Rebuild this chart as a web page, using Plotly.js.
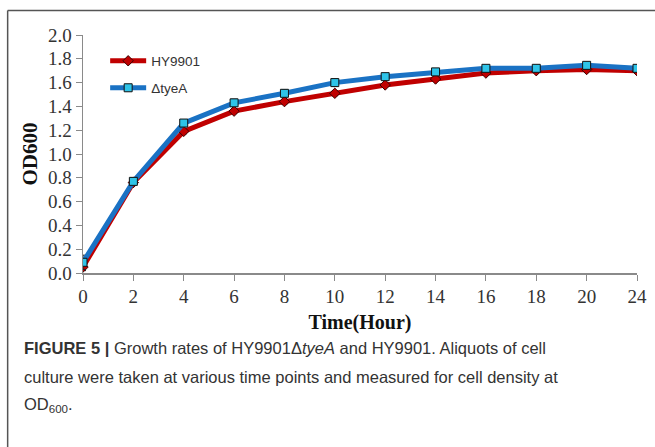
<!DOCTYPE html>
<html>
<head>
<meta charset="utf-8">
<script src="https://cdn.plot.ly/plotly-3.0.1.min.js"></script>
<style>html,body{margin:0;padding:0;background:#fff;}#chart{width:655px;height:447px;}</style>
</head>
<body>
<div id="chart"></div>
<script>
const timeLabels = ["0","2","4","6","8","10","12","14","16","18","20","24"];
const hy9901 = [0.05, 0.76, 1.19, 1.36, 1.44, 1.51, 1.58, 1.63, 1.68, 1.70, 1.71, 1.70];
const hy9901Err = [0.03, 0.02, 0.02, 0.02, 0.02, 0.02, 0.01, 0.01, 0.01, 0.01, 0.01, 0.01];
const tyeA = [0.09, 0.77, 1.26, 1.43, 1.51, 1.60, 1.65, 1.69, 1.72, 1.72, 1.745, 1.72];
const tyeAErr = [0.06, 0.03, 0.02, 0.03, 0.03, 0.03, 0.01, 0.01, 0.01, 0.01, 0.02, 0.01];

const serif = "Liberation Serif, Times New Roman, serif";
const sans = "Liberation Sans, Arial, sans-serif";

const traces = [
  {
    x: timeLabels, y: hy9901, name: "HY9901", type: "scatter", mode: "lines+markers",
    legend: "legend",
    line: {color: "#c00000", width: 5},
    marker: {symbol: "diamond", size: 8, color: "#c00000", line: {color: "#3a0000", width: 1}},
    error_y: {type: "data", array: hy9901Err, visible: true, color: "#222", thickness: 1, width: 3}
  },
  {
    x: timeLabels, y: tyeA, name: "ΔtyeA", type: "scatter", mode: "lines+markers",
    legend: "legend2",
    line: {color: "#1a72c4", width: 5},
    marker: {symbol: "square", size: 8, color: "#2ec4e8", line: {color: "#111", width: 1}},
    error_y: {type: "data", array: tyeAErr, visible: true, color: "#222", thickness: 1, width: 3}
  }
];

const cap = "#333333";
const legFont = {family: sans, size: 13.5, color: "#333"};
const layout = {
  width: 655, height: 447,
  margin: {l: 83, r: 18, t: 35, b: 174},
  paper_bgcolor: "#fff", plot_bgcolor: "#fff",
  showlegend: true,
  legend: {x: 0.04, y: (273 - 61) / 238, xanchor: "left", yanchor: "middle", bgcolor: "rgba(0,0,0,0)",
           font: legFont, itemwidth: 36},
  legend2: {x: 0.04, y: (273 - 88) / 238, xanchor: "left", yanchor: "middle", bgcolor: "rgba(0,0,0,0)",
           font: legFont, itemwidth: 36},
  xaxis: {
    type: "category", range: [0, 11], showgrid: false, zeroline: false,
    showline: true, linecolor: "#8a8a8a", linewidth: 1.5,
    ticks: "outside", ticklen: 6, tickcolor: "#8a8a8a",
    tickfont: {family: serif, size: 19, color: "#333"},
    title: {text: "<b>Time(Hour)</b>", font: {family: serif, size: 20, color: "#111"}, standoff: 8}
  },
  yaxis: {
    range: [0, 2.0], dtick: 0.2, tickformat: ".1f", showgrid: false, zeroline: false,
    showline: true, linecolor: "#8a8a8a", linewidth: 1.5,
    ticks: "outside", ticklen: 6, tickcolor: "#8a8a8a",
    tickfont: {family: serif, size: 19, color: "#333"},
    title: {text: "<b>OD600</b>", font: {family: serif, size: 21, color: "#111"}, standoff: 4}
  },
  shapes: [
    {type: "line", xref: "paper", yref: "paper", x0: -0.136, x1: 1.1, y0: 1.103, y1: 1.103,
     line: {color: "#555", width: 1.5}},
    {type: "line", xref: "paper", yref: "paper", x0: -0.136, x1: -0.136, y0: 1.103, y1: -0.8,
     line: {color: "#555", width: 1.5}}
  ],
  annotations: [
    {xref: "paper", yref: "paper", x: -0.110, y: (273 - 348) / 238, xanchor: "left", yanchor: "middle",
     showarrow: false, align: "left", font: {family: sans, size: 16.5, color: cap},
     text: "<b>FIGURE 5 |</b> Growth rates of HY9901Δ<i>tyeA</i> and HY9901. Aliquots of cell"},
    {xref: "paper", yref: "paper", x: -0.110, y: (273 - 377) / 238, xanchor: "left", yanchor: "middle",
     showarrow: false, align: "left", font: {family: sans, size: 16.5, color: cap},
     text: "culture were taken at various time points and measured for cell density at"},
    {xref: "paper", yref: "paper", x: -0.110, y: (273 - 405) / 238, xanchor: "left", yanchor: "middle",
     showarrow: false, align: "left", font: {family: sans, size: 16.5, color: cap},
     text: "OD<sub>600</sub>."}
  ]
};

Plotly.newPlot("chart", traces, layout, {displayModeBar: false, staticPlot: true});
</script>
</body>
</html>
